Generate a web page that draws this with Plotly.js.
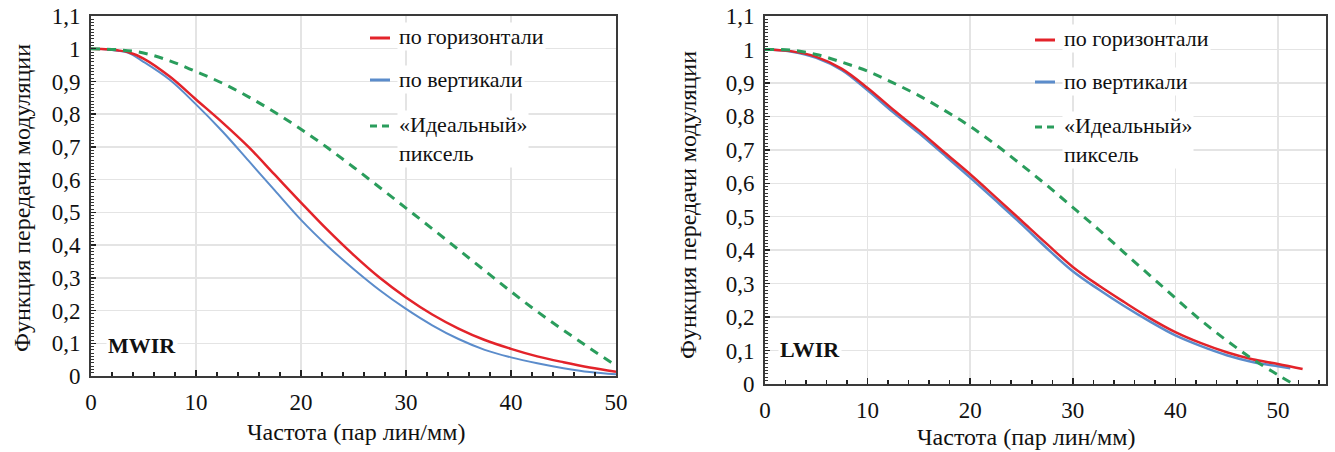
<!DOCTYPE html>
<html>
<head>
<meta charset="utf-8">
<script src="https://cdn.plot.ly/plotly-3.0.1.min.js"></script>
<style>#chart text { font-family: 'Liberation Serif' !important; }</style>
</head>
<body style="margin:0">
<div id="chart" style="width:1335px;height:452px"></div>
<script>
// ---------- Data ----------
const seriesNames = ['по горизонтали', 'по вертикали', '«Идеальный»<br>пиксель'];
const panelLabels = ['MWIR', 'LWIR'];
const yTitle = 'Функция передачи модуляции';
const xTitle = 'Частота (пар лин/мм)';

// MWIR (left)
const mwirX = [0,1,2.5,3.5,5,7.5,10,12.5,15,17.5,20,22.5,25,27.5,30,32.5,35,37.5,40,42.5,45,47.5,50];
const mwirHoriz = [1,0.999,0.995,0.99,0.97,0.915,0.845,0.775,0.70,0.615,0.53,0.447,0.37,0.30,0.24,0.188,0.145,0.11,0.083,0.06,0.042,0.026,0.013];
const mwirVert  = [1,0.999,0.994,0.988,0.96,0.905,0.83,0.748,0.658,0.567,0.477,0.398,0.327,0.262,0.205,0.155,0.113,0.08,0.057,0.039,0.024,0.012,0.005];
const mwirIdealX = [0,2.5,5,7.5,10,12.5,15,17.5,20,22.5,25,27.5,30,32.5,35,37.5,40,42.5,45,47.5,50];
const mwirIdeal  = [1,0.997,0.987,0.963,0.93,0.895,0.853,0.806,0.754,0.698,0.638,0.576,0.513,0.45,0.386,0.322,0.258,0.197,0.14,0.085,0.032];

// LWIR (right)
const lwirHorizX = [0,2.5,5,7.5,10,12.5,15,17.5,20,22.5,25,27.5,30,32.5,35,37.5,40,42.5,45,47.5,50,52.4];
const lwirHoriz  = [1,0.995,0.978,0.942,0.885,0.82,0.758,0.692,0.627,0.558,0.488,0.418,0.35,0.295,0.245,0.197,0.155,0.122,0.095,0.074,0.06,0.045];
const lwirVertX  = [0,2.5,5,7.5,10,12.5,15,17.5,20,22.5,25,27.5,30,32.5,35,37.5,40,42.5,45,47.5,50,51.2];
const lwirVert   = [1,0.994,0.975,0.938,0.878,0.812,0.75,0.684,0.617,0.548,0.478,0.405,0.337,0.283,0.233,0.187,0.145,0.113,0.086,0.066,0.053,0.047];
const lwirIdealX = [0,2.5,5,7.5,10,12.5,15,17.5,20,22.5,25,27.5,30,32.5,35,37.5,40,42.5,45,47.5,50,51.5];
const lwirIdeal  = [1,0.998,0.985,0.962,0.935,0.9,0.862,0.818,0.77,0.715,0.655,0.593,0.528,0.462,0.393,0.325,0.257,0.19,0.13,0.075,0.027,0];

// ---------- Styles ----------
const W = 1335, H = 452;
const RED = '#e3232a', BLUE = '#5b8ccb', GREEN = '#2a9d5c';
const SERIF = 'Liberation Serif';
const px = v => v / W;
const py = v => 1 - v / H;

function mkLine(x, y, color, width, xa, ya, dashed) {
  const ln = {color: color, width: width, shape: 'spline', smoothing: 1};
  if (dashed) ln.dash = '9px,7px';
  return {x: x, y: y, type: 'scatter', mode: 'lines', xaxis: xa, yaxis: ya, line: ln};
}

const traces = [
  mkLine(mwirX, mwirVert, BLUE, 2, 'x', 'y', false),
  mkLine(mwirX, mwirHoriz, RED, 2.5, 'x', 'y', false),
  mkLine(mwirIdealX, mwirIdeal, GREEN, 3, 'x', 'y', true),
  mkLine(lwirVertX, lwirVert, BLUE, 2.5, 'x2', 'y2', false),
  mkLine(lwirHorizX, lwirHoriz, RED, 2.5, 'x2', 'y2', false),
  mkLine(lwirIdealX, lwirIdeal, GREEN, 3, 'x2', 'y2', true)
];

function xaxisDef(domain, range, anchor) {
  return {domain: domain, range: range, anchor: anchor, dtick: 10, tick0: 0,
    showgrid: true, gridcolor: '#e4e4e4', gridwidth: 1.5, zeroline: false,
    showline: true, linecolor: '#3a3a3a', linewidth: 2, mirror: true,
    ticks: 'inside', ticklen: 6, tickwidth: 1.5, tickcolor: '#222',
    minor: {dtick: 2, ticks: 'inside', ticklen: 4, tickwidth: 1.5, tickcolor: '#222', showgrid: false},
    tickfont: {family: SERIF, size: 23, color: '#111'}, ticklabelstandoff: 4,
    fixedrange: true};
}
function yaxisDef(domain, anchor) {
  return {domain: domain, range: [0, 1.1], anchor: anchor, dtick: 0.1, tick0: 0,
    showgrid: true, gridcolor: '#e4e4e4', gridwidth: 1.5, zeroline: false,
    showline: true, linecolor: '#3a3a3a', linewidth: 2, mirror: true,
    ticks: 'inside', ticklen: 5, tickwidth: 1.5, tickcolor: '#222',
    minor: {dtick: 0.01, ticks: 'inside', ticklen: 3, tickwidth: 1, tickcolor: '#333', showgrid: false},
    tickfont: {family: SERIF, size: 23, color: '#111'}, ticklabelstandoff: 4,
    fixedrange: true};
}

const annotations = [];
const shapes = [];
function addText(text, x, y, size, extra) {
  const a = {text: text, xref: 'paper', yref: 'paper', x: px(x), y: py(y),
    showarrow: false, font: {family: SERIF, size: size, color: '#111'}, xanchor: 'center', yanchor: 'middle'};
  for (const k in (extra || {})) a[k] = extra[k];
  annotations.push(a);
}
function addLegend(x0, rows) {
  const colors = [RED, BLUE, GREEN];
  for (let i = 0; i < 3; i++) {
    const ln = {color: colors[i], width: 3};
    if (i === 2) ln.dash = '7px,5px';
    shapes.push({type: 'line', xref: 'paper', yref: 'paper', x0: px(x0), x1: px(x0 + 20),
      y0: py(rows[i]), y1: py(rows[i]), line: ln});
    addText(seriesNames[i], x0 + 27, rows[i] + (i === 2 ? 13 : -1), 22,
      {xanchor: 'left', align: 'left', bgcolor: '#ffffff'});
  }
}

addText(yTitle, 22, 198, 24, {textangle: -90});
addText(xTitle, 356, 432, 24);
addText('<b>' + panelLabels[0] + '</b>', 142, 345, 22, {bgcolor: '#ffffff'});
addLegend(370, [38, 80, 126]);
addText(yTitle, 688, 205, 24, {textangle: -90});
addText(xTitle, 1026, 437, 24);
addText('<b>' + panelLabels[1] + '</b>', 810, 349, 22, {bgcolor: '#ffffff'});
addLegend(1035, [40, 82, 127]);

const layout = {
  width: W, height: H,
  margin: {l: 0, r: 0, t: 0, b: 0},
  font: {family: SERIF, color: '#111'},
  paper_bgcolor: '#fff', plot_bgcolor: '#fff',
  separators: ', ',
  showlegend: false,
  xaxis: xaxisDef([px(91), px(616)], [0, 50], 'y'),
  yaxis: yaxisDef([py(376), py(16)], 'x'),
  xaxis2: xaxisDef([px(765), px(1326)], [0, 54.68], 'y2'),
  yaxis2: yaxisDef([py(384), py(16)], 'x2'),
  annotations: annotations,
  shapes: shapes
};

Plotly.newPlot('chart', traces, layout, {staticPlot: true});
</script>
</body>
</html>
